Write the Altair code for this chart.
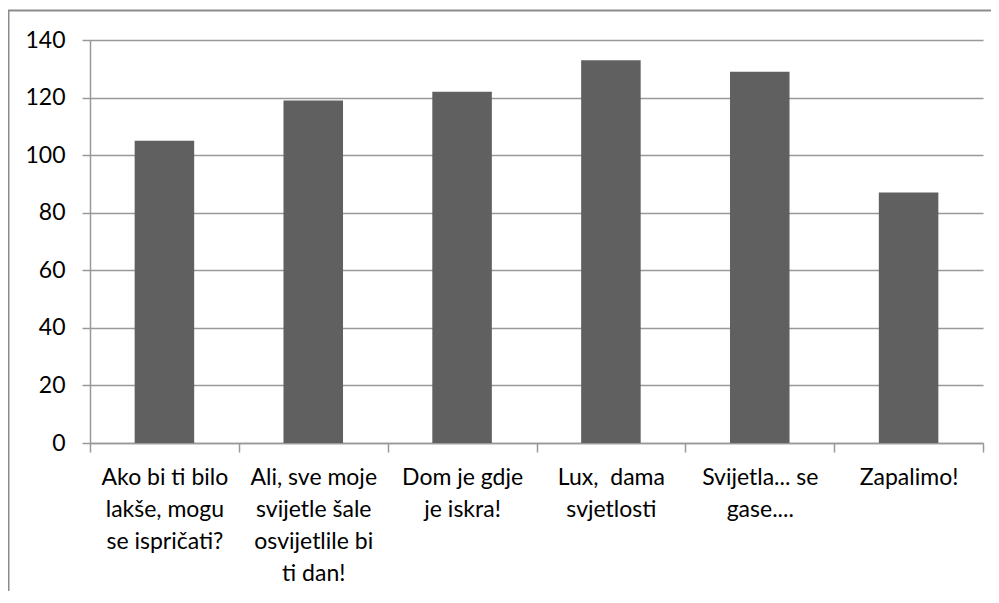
import altair as alt
import pandas as pd

categories = [
    "Ako bi ti bilo|lakše, mogu|se ispričati?",
    "Ali, sve moje|svijetle šale|osvijetlile bi|ti dan!",
    "Dom je gdje|je iskra!",
    "Lux,\u00a0 dama|svjetlosti",
    "Svijetla... se|gase....",
    "Zapalimo!",
]
values = [105, 119, 122, 133, 129, 87]
y_ticks = [0, 20, 40, 60, 80, 100, 120, 140]

df = pd.DataFrame({"cat": categories, "val": values})

FONT = "Lato"
GRID = "#999999"

bars = alt.Chart(df).mark_bar(color="#606060", width=alt.RelativeBandSize(0.4)).encode(
    x=alt.X(
        "cat:N",
        sort=categories,
        title=None,
        scale=alt.Scale(paddingInner=0, paddingOuter=0),
        axis=alt.Axis(
            labelAngle=0,
            labelExpr="isValid(datum.value) ? split(datum.value, '|') : ''",
            labelFont=FONT,
            labelFontSize=23,
            labelColor="#000000",
            labelLineHeight=32,
            labelPadding=14,
            labelBaseline="top",
            tickBand="extent",
            tickSize=9,
            tickColor=GRID,
            tickWidth=1.5,
            domainColor=GRID,
            domainWidth=1.5,
            labelLimit=200,
        ),
    ),
    y=alt.Y(
        "val:Q",
        title=None,
        scale=alt.Scale(domain=[0, 140], nice=False),
        axis=alt.Axis(
            values=y_ticks,
            grid=True,
            gridColor=GRID,
            gridWidth=1.5,
            tickSize=8,
            tickColor=GRID,
            tickWidth=1.5,
            domainColor=GRID,
            domainWidth=1.5,
            labelFont=FONT,
            labelFontSize=23,
            labelColor="#000000",
            labelPadding=17,
        ),
    ),
)

frame = alt.Chart(alt.Data(values=[{}])).mark_rect(
    fill=None, stroke="#8c8c8c", strokeWidth=2
).encode(
    x=alt.value(-81.5), x2=alt.value(907), y=alt.value(-29.5), y2=alt.value(620)
)

chart = alt.layer(bars, frame).properties(
    width=893,
    height=403,
    padding={"left": 82, "top": 32, "right": 8, "bottom": 148},
    autosize=alt.AutoSizeParams(type="none"),
).configure_view(stroke=None)

chart.save("out.html", embed_options={"renderer": "svg", "actions": False})
